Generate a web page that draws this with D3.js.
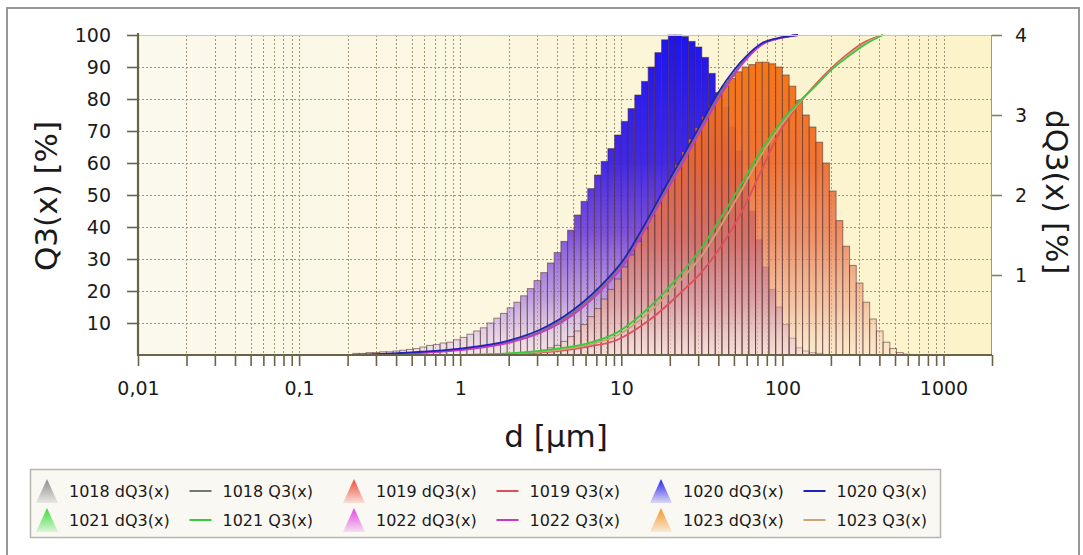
<!DOCTYPE html>
<html>
<head>
<meta charset="utf-8">
<script src="https://cdn.jsdelivr.net/npm/d3@7"></script>
<style>
  body { margin: 0; background: #fff; }
  svg text { font-family: "DejaVu Sans", Verdana, sans-serif; fill: #1a1a1a; }
</style>
</head>
<body>
<svg id="chart" width="1083" height="555"></svg>
<script>
// size classes: 24 per decade (class lower edges, mantissa part)
var classMantissa = [1.000, 1.101, 1.212, 1.334, 1.468, 1.616, 1.778, 1.957, 2.154, 2.371, 2.610, 2.873,
                     3.162, 3.481, 3.831, 4.217, 4.642, 5.109, 5.623, 6.190, 6.813, 7.499, 8.254, 9.085];
var classDecades = [0.1, 1, 10, 100];

var seriesNames = ["1018", "1019", "1020", "1021", "1022", "1023"];
var fillColors = ["#8c8c8c", "#ee4a3a", "#2a22f2", "#36dc36", "#e244e2", "#f2962a"];
var lineColors = ["#6f7b6c", "#e0505c", "#2222b8", "#3cc83c", "#c838c8", "#c8a574"];

// dQ3 [%] per class (right axis)
var dq1020From = 0.2154;
var dq1020 = [0.02, 0.02, 0.03, 0.03, 0.04, 0.04, 0.05, 0.06, 0.07, 0.08, 0.10, 0.12, 0.13, 0.15, 0.16, 0.19,
              0.22, 0.26, 0.30, 0.34, 0.40, 0.46, 0.52, 0.59, 0.66, 0.74, 0.83, 0.93, 1.03, 1.15, 1.28, 1.42,
              1.56, 1.75, 1.92, 2.08, 2.25, 2.42, 2.58, 2.75, 2.92, 3.08, 3.25, 3.42, 3.60, 3.78, 3.94, 4.00,
              4.00, 3.98, 3.92, 3.85, 3.72, 3.52, 3.28, 3.10, 2.85, 2.55, 2.20, 1.80, 1.44, 1.10, 0.82, 0.60,
              0.38, 0.21, 0.09, 0.05, 0.03, 0.02];
var dq1023From = 2.154;
var dq1023 = [0.01, 0.02, 0.03, 0.04, 0.06, 0.09, 0.12, 0.17, 0.23, 0.30, 0.38, 0.48, 0.58, 0.70, 0.82, 0.95,
              1.10, 1.25, 1.42, 1.58, 1.74, 1.90, 2.06, 2.22, 2.38, 2.54, 2.70, 2.84, 2.98, 3.12, 3.25, 3.36,
              3.46, 3.54, 3.60, 3.63, 3.66, 3.66, 3.64, 3.60, 3.50, 3.36, 3.18, 3.00, 2.85, 2.66, 2.40, 2.05,
              1.68, 1.36, 1.12, 0.90, 0.66, 0.45, 0.30, 0.16, 0.08, 0.03, 0.01];

// Q3 [%] cumulative curves
var fineD = [0.22, 0.5, 1, 2, 3.1, 5, 8.2, 10.3, 13, 20, 25, 31, 40, 50, 60, 75, 100, 125];
var q1018 = [0, 0.6, 1.7, 4.1, 7.2, 13.2, 23, 29, 37.2, 54, 62.5, 71, 81, 88, 93, 97.2, 99.2, 100];
var q1020 = [0, 0.8, 2, 4.5, 7.8, 14, 23.8, 29.7, 38, 55, 63.5, 72, 82, 89, 93.5, 97.5, 99.3, 100];
var q1022 = [0, 0.5, 1.5, 3.8, 6.8, 12.5, 22.2, 28, 36.3, 53, 61.5, 70, 80, 87.5, 92.5, 97, 99.2, 100];
var coarseD = [1, 2, 4, 6, 9.4, 15, 24, 31, 41, 55, 73, 97, 129, 160, 200, 260, 330, 420];
var q1019 = [0, 0.3, 1.2, 2.5, 4.7, 11, 20, 25.5, 33.5, 44, 57, 70, 79, 84.5, 89.5, 94.5, 98, 100];
var q1021 = [0, 0.5, 2, 3.5, 7, 15, 26, 33, 42.5, 53, 63.5, 72.5, 79.5, 84, 89, 93.5, 97.2, 100];
var q1023 = [0, 0.4, 1.5, 3, 6, 13.5, 24, 30.5, 40, 51, 62, 71.5, 79.2, 84, 89, 94, 97.6, 100];

var xTickLabels = ["0,01", "0,1", "1", "10", "100", "1000"];
var leftTicks = [10, 20, 30, 40, 50, 60, 70, 80, 90, 100];
var rightTicks = [1, 2, 3, 4];

var classEdges = [];
classDecades.forEach(function(dec) {
  classMantissa.forEach(function(m) { classEdges.push(+(m * dec).toPrecision(4)); });
});
classEdges.push(1000);

var svg = d3.select("#chart");
var pLeft = 138, pRight = 992, pTop = 35, pBottom = 355;

var x = d3.scaleLog().domain([0.01, 2000]).range([pLeft, pRight]);
var yL = d3.scaleLinear().domain([0, 100]).range([pBottom, pTop]);
var yR = d3.scaleLinear().domain([0, 4]).range([pBottom, pTop]);

// outer frame
svg.append("rect").attr("x", 7).attr("y", 8).attr("width", 1072).attr("height", 570)
  .attr("fill", "#fff").attr("stroke", "#979797").attr("stroke-width", 2);

var defs = svg.append("defs");
var bg = defs.append("linearGradient").attr("id", "plotBg").attr("x1", 0).attr("x2", 1).attr("y1", 0).attr("y2", 0);
bg.append("stop").attr("offset", "0%").attr("stop-color", "#fbf9ee");
bg.append("stop").attr("offset", "100%").attr("stop-color", "#fcf3c9");

defs.append("clipPath").attr("id", "plotClip").append("rect")
  .attr("x", pLeft).attr("y", pTop - 1).attr("width", pRight - pLeft).attr("height", pBottom - pTop + 1);

// bar gradients: strong colour on top, fading at the bottom
var barStops = {
  "1020": [["0%", "#1c14f2", 1], ["40%", "#3c22e4", 0.97], ["62%", "#6c3cd8", 0.88], ["82%", "#a274e0", 0.68], ["100%", "#e6ccee", 0.4]],
  "1023": [["0%", "#f6780e", 1], ["40%", "#ee6a2c", 0.93], ["65%", "#e87a52", 0.78], ["85%", "#f0a686", 0.58], ["100%", "#f8d8c8", 0.38]]
};
Object.keys(barStops).forEach(function(k) {
  var g = defs.append("linearGradient").attr("id", "bar" + k).attr("gradientUnits", "userSpaceOnUse")
    .attr("x1", 0).attr("x2", 0).attr("y1", pTop).attr("y2", pBottom);
  barStops[k].forEach(function(s) {
    g.append("stop").attr("offset", s[0]).attr("stop-color", s[1]).attr("stop-opacity", s[2]);
  });
});

seriesNames.forEach(function(n, i) {
  var g = defs.append("linearGradient").attr("id", "leg" + n).attr("x1", 0).attr("x2", 0).attr("y1", 0).attr("y2", 1);
  g.append("stop").attr("offset", "0%").attr("stop-color", fillColors[i]);
  g.append("stop").attr("offset", "100%").attr("stop-color", fillColors[i]).attr("stop-opacity", 0.15);
});

svg.append("rect").attr("x", pLeft).attr("y", pTop).attr("width", pRight - pLeft).attr("height", pBottom - pTop)
  .attr("fill", "url(#plotBg)");

// grid
var decadeTicks = [0.01, 0.1, 1, 10, 100, 1000];
var minorTicks = [];
decadeTicks.forEach(function(dec) {
  for (var m = 1; m <= 9; m++) minorTicks.push(+(m * dec).toPrecision(3));
});
minorTicks = minorTicks.filter(function(v) { return v <= 1000; });
minorTicks.push(2000);

var grid = svg.append("g").attr("stroke", "#9c9576").attr("stroke-width", 1).attr("stroke-dasharray", "2,2");
grid.selectAll(".vg").data(minorTicks.filter(function(v) { return v > 0.01 && v < 2000; }))
  .enter().append("line")
  .attr("x1", d => Math.round(x(d)) + 0.5).attr("x2", d => Math.round(x(d)) + 0.5)
  .attr("y1", pTop).attr("y2", pBottom);
grid.selectAll(".hg").data(leftTicks.filter(d => d < 100))
  .enter().append("line")
  .attr("x1", pLeft).attr("x2", pRight)
  .attr("y1", d => Math.round(yL(d)) + 0.5).attr("y2", d => Math.round(yL(d)) + 0.5);

// histograms
var plot = svg.append("g").attr("clip-path", "url(#plotClip)");
var dqSeries = [
  { name: "1020", from: dq1020From, values: dq1020 },
  { name: "1023", from: dq1023From, values: dq1023 }
];
dqSeries.forEach(function(s) {
  var start = classEdges.indexOf(s.from);
  var bars = s.values.map(function(v, i) {
    return { d0: classEdges[start + i], d1: classEdges[start + i + 1], v: v };
  });
  plot.append("g").selectAll("rect").data(bars).enter().append("rect")
    .attr("x", d => x(d.d0))
    .attr("width", d => x(d.d1) - x(d.d0))
    .attr("y", d => yR(d.v))
    .attr("height", d => yR(0) - yR(d.v))
    .attr("fill", "url(#bar" + s.name + ")")
    .attr("stroke", "#4a2a30")
    .attr("stroke-opacity", 0.55)
    .attr("stroke-width", 1);
});

// Q3 lines
var q3Series = [
  { name: "1018", d: fineD, q: q1018 },
  { name: "1022", d: fineD, q: q1022 },
  { name: "1020", d: fineD, q: q1020 },
  { name: "1019", d: coarseD, q: q1019 },
  { name: "1023", d: coarseD, q: q1023 },
  { name: "1021", d: coarseD, q: q1021 }
];
var line = d3.line().x(p => x(p[0])).y(p => yL(p[1])).curve(d3.curveMonotoneX);
q3Series.forEach(function(s) {
  var pts = s.d.map(function(dv, i) { return [dv, s.q[i]]; });
  plot.append("path").datum(pts)
    .attr("d", line)
    .attr("fill", "none")
    .attr("stroke", lineColors[seriesNames.indexOf(s.name)])
    .attr("stroke-width", 1.8);
});

// frame lines of the plot
svg.append("line").attr("x1", pLeft).attr("x2", pRight).attr("y1", pTop + 0.5).attr("y2", pTop + 0.5)
  .attr("stroke", "#cfc7a6").attr("stroke-width", 1);
svg.append("line").attr("x1", pRight - 0.5).attr("x2", pRight - 0.5).attr("y1", pTop).attr("y2", pBottom)
  .attr("stroke", "#a89c62").attr("stroke-width", 1);

// axes
var axisColor = "#6b6346";
var xAxis = d3.axisBottom(x).tickValues(minorTicks).tickSize(11).tickPadding(16)
  .tickFormat(function(d) {
    var i = decadeTicks.indexOf(d);
    return i >= 0 ? xTickLabels[i] : "";
  });
var gx = svg.append("g").attr("transform", "translate(0," + pBottom + ")").call(xAxis);

var gl = svg.append("g").attr("transform", "translate(" + pLeft + ",0)")
  .call(d3.axisLeft(yL).tickValues(leftTicks).tickSize(11).tickPadding(16));

var gr = svg.append("g").attr("transform", "translate(" + pRight + ",0)")
  .call(d3.axisRight(yR).tickValues(rightTicks).tickSize(10).tickPadding(13).tickFormat(d3.format("d")));

[gx, gl, gr].forEach(function(g) {
  g.select(".domain").remove();
  g.selectAll(".tick line").attr("stroke", axisColor).attr("stroke-width", 1.6);
  g.selectAll(".tick text").attr("font-size", 19).attr("fill", "#1a1a1a")
    .style("font-family", "'DejaVu Sans', Verdana, sans-serif");
});
gr.selectAll(".tick line").attr("stroke", "#8a8060");

svg.append("line").attr("x1", pLeft).attr("x2", pLeft).attr("y1", pTop - 2).attr("y2", pBottom + 1)
  .attr("stroke", axisColor).attr("stroke-width", 2.2);
svg.append("line").attr("x1", pLeft).attr("x2", pRight).attr("y1", pBottom).attr("y2", pBottom)
  .attr("stroke", axisColor).attr("stroke-width", 2.2);

// axis titles
svg.append("text").attr("transform", "translate(57,196) rotate(-90)")
  .attr("text-anchor", "middle").attr("font-size", 31).text("Q3(x) [%]");
svg.append("text").attr("x", 556).attr("y", 447)
  .attr("text-anchor", "middle").attr("font-size", 31).text("d [µm]");
svg.append("text").attr("transform", "translate(1046,192) rotate(90)")
  .attr("text-anchor", "middle").attr("font-size", 30).text("dQ3(x) [%]");

// legend
svg.append("rect").attr("x", 30.5).attr("y", 469.5).attr("width", 910).attr("height", 68)
  .attr("fill", "#faf8f3").attr("stroke", "#b6b4ac").attr("stroke-width", 1.5);

var legendItems = [];
seriesNames.forEach(function(n, i) {
  legendItems.push({ name: n, kind: "dQ3(x)", i: i });
  legendItems.push({ name: n, kind: "Q3(x)", i: i });
});
var leg = svg.append("g");
legendItems.forEach(function(it, k) {
  var col = k % 6, row = Math.floor(k / 6);
  var lx = 36 + col * 153.5, ly = 491 + row * 29;
  var g = leg.append("g").attr("transform", "translate(" + lx + "," + ly + ")");
  if (it.kind === "dQ3(x)") {
    g.append("path").attr("d", "M0,12 L11,-12 L22,12 Z").attr("fill", "url(#leg" + it.name + ")");
  } else {
    g.append("line").attr("x1", 0).attr("x2", 22).attr("y1", 0).attr("y2", 0)
      .attr("stroke", lineColors[it.i]).attr("stroke-width", 2);
  }
  g.append("text").attr("x", 33).attr("y", 6).attr("font-size", 16)
    .text(it.name + " " + it.kind);
});
</script>
</body>
</html>
